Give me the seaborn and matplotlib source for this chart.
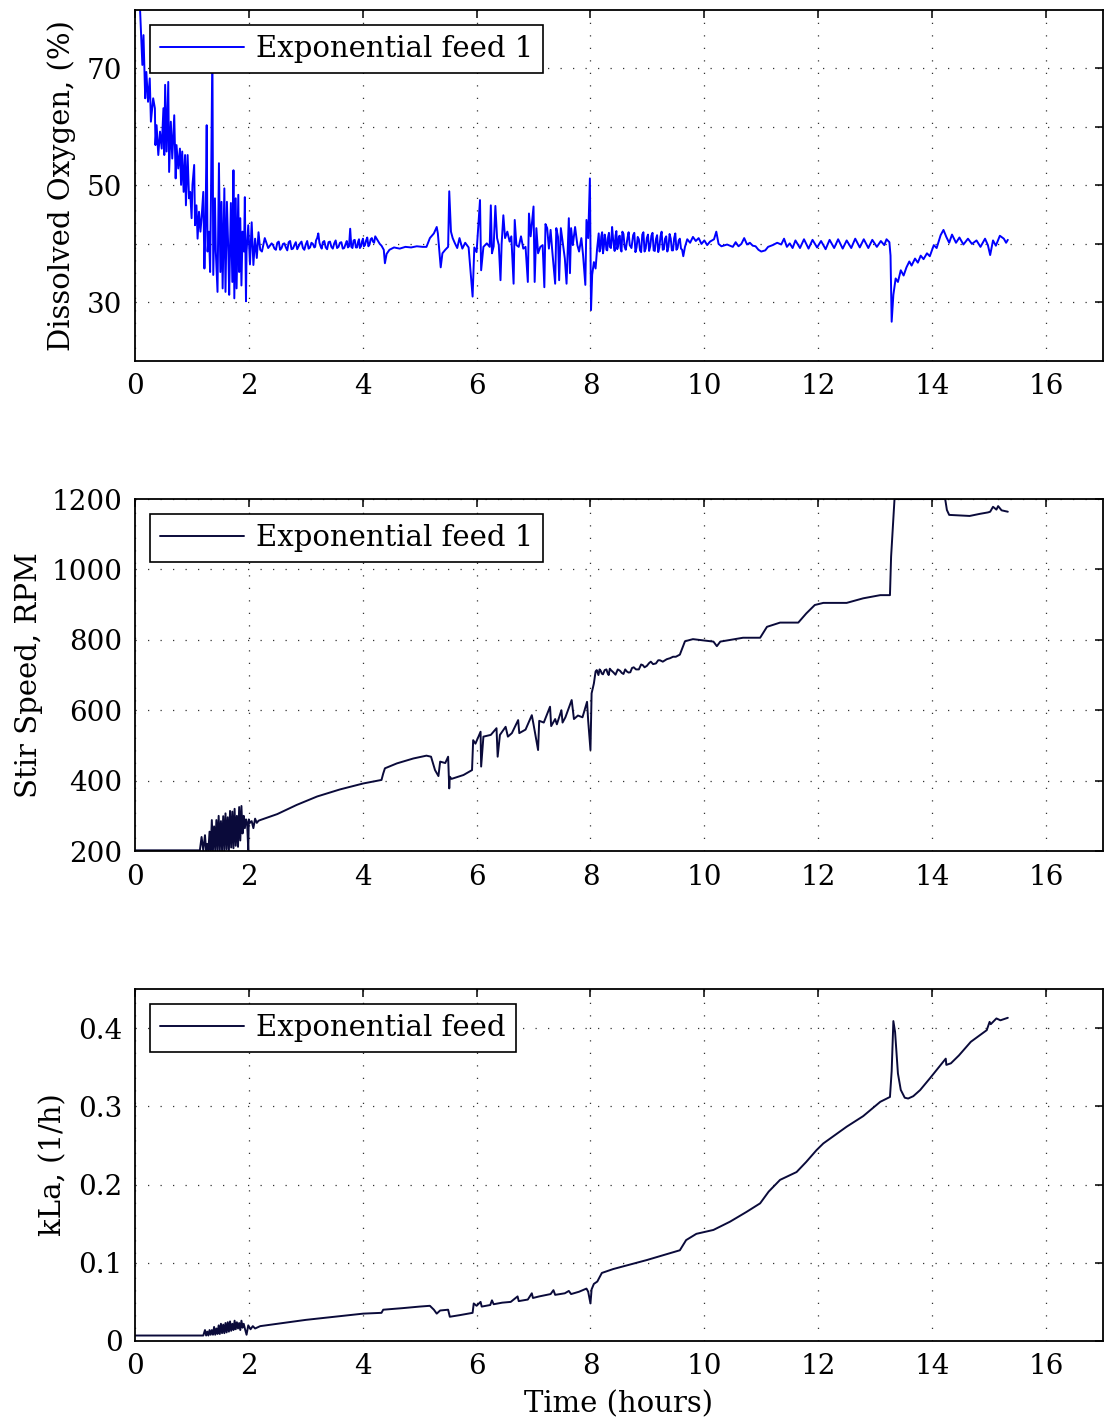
import numpy as np
import pandas as pd
import matplotlib
matplotlib.use("Agg")
import matplotlib.pyplot as plt
import seaborn as sns

# ---------------- data ----------------
do_t = [0.05, 0.09, 0.13, 0.15, 0.18, 0.20, 0.23, 0.26, 0.28, 0.32, 0.35, 0.36, 0.38, 0.41, 0.44, 0.47,
        0.50, 0.515, 0.53, 0.556, 0.585, 0.60, 0.63, 0.655, 0.69, 0.715, 0.73, 0.76, 0.79, 0.81, 0.83,
        0.855, 0.88, 0.895, 0.925, 0.95, 0.97, 0.995, 1.01, 1.04, 1.055, 1.08, 1.10, 1.125, 1.15, 1.17,
        1.20, 1.22, 1.24, 1.26, 1.275, 1.30, 1.32, 1.335, 1.36, 1.375, 1.405, 1.42, 1.45, 1.475, 1.50,
        1.52, 1.54, 1.57, 1.59, 1.615, 1.64, 1.655, 1.685, 1.71, 1.73, 1.745, 1.77, 1.785, 1.80, 1.815,
        1.83, 1.85, 1.87, 1.89, 1.915, 1.93, 1.95, 1.96, 1.99, 2.02, 2.05, 2.08, 2.11, 2.14, 2.17, 2.20,
        2.23, 2.28, 2.34, 2.40,
        2.45, 2.50, 2.55, 2.60, 2.65, 2.70, 2.75, 2.80, 2.85, 2.90, 2.95, 3.00, 3.05, 3.10, 3.15, 3.18,
        3.22, 3.26, 3.30, 3.35, 3.40, 3.45, 3.50, 3.55, 3.60, 3.65, 3.70, 3.74, 3.78, 3.80, 3.84, 3.88,
        3.92, 3.95, 3.99, 4.02, 4.06, 4.10, 4.14, 4.18, 4.22, 4.27, 4.33, 4.37, 4.39, 4.42, 4.47, 4.55,
        4.65, 4.75, 4.85, 4.95, 5.05, 5.12,
        5.18, 5.25, 5.30, 5.32, 5.37, 5.40, 5.45, 5.50, 5.52, 5.55, 5.58, 5.62, 5.66, 5.70, 5.75, 5.80,
        5.86, 5.93, 5.96, 6.00, 6.06, 6.08, 6.12, 6.18, 6.23, 6.25, 6.27, 6.30, 6.33, 6.36, 6.39, 6.42,
        6.44, 6.47, 6.50, 6.54, 6.58, 6.61, 6.65, 6.67, 6.70, 6.74, 6.78, 6.82, 6.86, 6.90, 6.92, 6.95,
        7.00, 7.02, 7.05, 7.08, 7.12, 7.16, 7.19, 7.21, 7.24, 7.27, 7.30, 7.33, 7.38, 7.40, 7.43, 7.45,
        7.48, 7.52, 7.55, 7.58, 7.62, 7.64, 7.66, 7.69, 7.73, 7.77, 7.80, 7.84, 7.87, 7.91, 7.93, 7.96,
        7.99, 8.01, 8.03, 8.06, 8.09, 8.13, 8.16, 8.19, 8.22, 8.25, 8.28, 8.31, 8.34, 8.38, 8.41, 8.44,
        8.47, 8.50, 8.53, 8.56, 8.60, 8.65, 8.69,
        8.75, 8.79, 8.83, 8.87, 8.91, 8.95, 8.99, 9.03, 9.07, 9.11, 9.15, 9.19, 9.23, 9.27, 9.31, 9.35,
        9.39, 9.43, 9.47, 9.51, 9.55, 9.59, 9.63, 9.66, 9.70, 9.75, 9.80, 9.85, 9.90, 9.95, 10.00, 10.05,
        10.10, 10.17, 10.21, 10.25, 10.30, 10.40, 10.50, 10.55, 10.60, 10.65, 10.70, 10.75, 10.80,
        10.85, 10.90, 10.95, 11.00, 11.07, 11.12, 11.20, 11.28, 11.35, 11.40, 11.45, 11.50, 11.55,
        11.60, 11.68, 11.75, 11.83, 11.90, 11.98, 12.05, 12.13, 12.20, 12.28, 12.35, 12.43, 12.50,
        12.58, 12.65, 12.73, 12.80, 12.88, 12.95, 13.03, 13.10, 13.16, 13.20, 13.25, 13.27, 13.29,
        13.32, 13.36, 13.40, 13.45, 13.50, 13.55, 13.60, 13.64, 13.70, 13.75, 13.80, 13.85, 13.91,
        13.96, 14.03, 14.08, 14.15, 14.20, 14.25, 14.30, 14.35, 14.42, 14.48, 14.55, 14.63, 14.70,
        14.78, 14.85, 14.93, 14.98, 15.02, 15.07, 15.12, 15.19, 15.26, 15.30, 15.33]
do_v = [85.0, 80.0, 70.6, 75.7, 64.9, 69.4, 64.3, 68.3, 60.9, 64.9, 63.2, 56.9, 60.3, 55.2, 59.2, 56.3,
        63.2, 55.2, 67.2, 55.8, 67.7, 52.3, 60.9, 54.6, 62.0, 51.2, 56.9, 52.9, 56.3, 50.1, 55.8,
        48.9, 55.2, 46.6, 55.2, 47.8, 48.9, 44.4, 50.1, 53.5, 43.2, 46.6, 40.9, 45.5, 42.1, 44.4,
        48.9, 35.8, 44.0, 60.3, 38.7, 42.1, 35.2, 47.8, 74.0, 34.7, 47.8, 38.7, 31.8, 53.8, 35.2,
        47.2, 32.4, 49.5, 31.8, 47.2, 38.7, 31.3, 47.0, 33.5, 52.6, 30.7, 47.8, 32.4, 40.0, 48.4,
        35.2, 44.4, 32.9, 42.1, 38.7, 48.0, 30.2, 38.7, 43.2, 36.5, 43.7, 36.4, 40.9, 37.6, 42.0, 39.0,
        38.7, 41.0, 39.3, 40.1,
        39.2, 40.2, 39.0, 40.0, 39.4, 40.3, 39.1, 39.8, 39.1, 40.1, 39.3, 39.9, 39.2, 40.2, 39.4, 40.6,
        41.8, 39.6, 40.3, 39.4, 40.3, 39.5, 40.1, 39.3, 40.2, 39.2, 40.0, 39.4, 42.6, 39.5, 40.6, 39.4,
        40.4, 39.3, 40.5, 39.6, 40.6, 39.6, 40.8, 40.4, 41.3, 40.5, 39.7, 39.0, 36.7, 38.3, 39.0, 39.4,
        39.2, 39.5, 39.4, 39.6, 39.5, 39.5,
        41.0, 41.8, 42.9, 41.8, 36.0, 38.4, 39.0, 39.5, 49.0, 42.1, 41.0, 40.1, 39.3, 41.0, 39.2, 40.2,
        39.4, 31.0, 39.4, 38.6, 47.5, 35.5, 39.5, 40.1, 39.5, 46.6, 38.4, 39.6, 46.5, 41.0, 39.8, 33.8,
        40.0, 44.9, 41.0, 42.1, 40.4, 41.3, 33.2, 44.1, 39.8, 39.5, 41.3, 39.2, 39.5, 33.5, 45.2, 41.3,
        46.4, 33.5, 42.7, 38.4, 39.5, 39.8, 32.6, 43.4, 42.7, 39.2, 42.4, 38.7, 33.2, 42.7, 41.2, 33.8,
        42.7, 39.8, 37.5, 33.2, 44.4, 35.0, 42.7, 39.8, 42.9, 39.8, 38.7, 41.0, 38.1, 33.0, 44.1, 41.0,
        51.2, 28.7, 34.7, 36.9, 35.8, 40.4, 38.7, 41.3, 38.4, 41.6, 39.0, 41.2, 39.5, 42.9, 39.8, 41.4,
        39.1, 41.3, 39.2, 42.1, 39.5, 41.0, 39.8,
        41.5, 38.6, 41.2, 38.9, 41.6, 38.7, 41.0, 38.8, 41.4, 38.9, 40.8, 38.6, 41.3, 39.0, 40.9, 38.7,
        41.7, 38.9, 41.0, 39.0, 40.6, 39.2, 37.9, 39.5, 40.8, 40.2, 41.2, 40.5, 41.0, 40.0, 40.6, 39.8,
        40.4, 40.8, 42.1, 40.0, 39.6, 39.9, 39.5, 40.3, 39.6, 40.0, 41.0, 39.9, 40.2,
        39.7, 39.6, 39.0, 38.7, 38.9, 39.5, 39.8, 40.2, 39.9, 40.9, 39.5, 40.1, 39.3,
        40.6, 39.3, 40.8, 39.2, 40.7, 39.4, 40.5, 39.1, 40.7, 39.3, 40.8, 39.2, 40.6,
        39.3, 40.9, 39.4, 40.8, 39.3, 40.7, 39.5, 40.5, 39.8, 40.8, 40.3, 38.0, 26.7,
        31.3, 34.1, 33.5, 35.5, 34.6, 36.0, 37.0, 36.3, 37.5, 36.8, 38.0, 37.4, 38.4,
        37.9, 39.8, 39.3, 41.5, 42.4, 41.2, 40.2, 41.6, 40.2, 41.1, 39.9, 40.9, 40.0,
        40.6, 39.5, 40.9, 39.8, 38.1, 40.6, 39.7, 41.4, 40.9, 40.2, 40.7]

# extra readings inside the dense noisy bands of the DO trace (hours, %)
do_band_points = [
    (2.425, 39.8), (2.475, 39.0), (2.525, 40.4), (2.575, 39.3), (2.625, 40.1), (2.675, 38.9),
    (2.725, 40.5), (2.775, 39.2), (2.825, 40.3), (2.875, 39.6), (2.925, 40.4), (2.975, 39.0),
    (3.025, 40.5), (3.075, 39.4), (3.125, 40.0), (3.165, 39.5), (3.200, 41.0), (3.240, 40.2),
    (3.280, 39.2), (3.325, 40.5), (3.375, 39.1), (3.425, 40.4), (3.475, 39.2), (3.525, 40.6),
    (3.575, 39.5), (3.625, 40.3), (3.675, 39.3), (3.720, 40.5), (3.760, 39.6), (3.790, 41.0),
    (3.820, 39.3), (3.860, 40.7), (3.900, 39.4), (3.935, 40.8), (3.970, 39.6), (4.005, 40.9),
    (4.040, 39.8), (4.080, 41.1), (4.120, 39.9), (4.160, 41.0), (4.200, 40.2), (4.245, 40.9),
    (4.300, 40.0),
    (8.115, 39.0), (8.145, 41.8), (8.175, 39.2), (8.205, 42.0), (8.235, 39.5), (8.265, 40.8),
    (8.295, 38.9), (8.325, 41.9), (8.360, 39.3), (8.395, 41.1), (8.425, 38.8), (8.455, 42.2),
    (8.485, 39.6), (8.515, 41.4), (8.545, 38.7), (8.580, 41.7), (8.620, 39.0), (8.670, 42.0),
    (8.720, 39.3), (8.770, 41.9), (8.810, 39.4), (8.850, 40.8), (8.890, 38.6), (8.930, 42.0),
    (8.970, 39.2), (9.010, 41.6), (9.050, 39.6), (9.090, 41.9), (9.130, 38.8), (9.170, 41.5),
    (9.210, 39.4), (9.250, 42.1), (9.290, 39.1), (9.330, 41.3), (9.370, 39.5), (9.410, 40.9),
    (9.450, 38.9), (9.490, 41.8), (9.530, 39.3), (9.570, 40.9), (9.610, 39.0),
]

# stir speed (hours, RPM)
stir_points = [
    (0.00, 202), (0.50, 202), (1.00, 202), (1.14, 202), (1.17, 240), (1.20, 202), (1.23, 245),
    (1.25, 202), (1.27, 220), (1.29, 202), (1.31, 255), (1.33, 202), (1.35, 288), (1.37, 202),
    (1.39, 270), (1.41, 202), (1.43, 288), (1.45, 202), (1.47, 300), (1.49, 202), (1.51, 285),
    (1.53, 202), (1.55, 299), (1.57, 202), (1.59, 307), (1.61, 205), (1.63, 296), (1.65, 202),
    (1.67, 314), (1.69, 210), (1.71, 312), (1.73, 208), (1.75, 320), (1.77, 215), (1.79, 300),
    (1.81, 212), (1.83, 325), (1.85, 230), (1.87, 328), (1.89, 250), (1.91, 300), (1.93, 265),
    (1.95, 290), (1.97, 280), (1.99, 203), (2.00, 290), (2.02, 280), (2.05, 285), (2.08, 265),
    (2.11, 292), (2.14, 280), (2.17, 286), (2.20, 288), (2.50, 305), (2.84, 331), (3.20, 355),
    (3.60, 375), (4.01, 392), (4.20, 398), (4.33, 402), (4.36, 420), (4.39, 435), (4.60, 449),
    (4.89, 463), (5.12, 471), (5.20, 468), (5.27, 430), (5.33, 413), (5.36, 454), (5.45, 450),
    (5.50, 468), (5.52, 378), (5.53, 411), (5.56, 405), (5.77, 416), (5.92, 430), (5.94, 515),
    (5.98, 505), (6.07, 539), (6.08, 440), (6.12, 525), (6.25, 530), (6.35, 549), (6.37, 468),
    (6.41, 530), (6.51, 553), (6.55, 525), (6.62, 535), (6.73, 572), (6.75, 535), (6.86, 545),
    (6.97, 586), (7.00, 560), (7.08, 487), (7.10, 570), (7.18, 565), (7.29, 610), (7.31, 555),
    (7.38, 575), (7.41, 560), (7.49, 600), (7.51, 565), (7.56, 580), (7.67, 629), (7.71, 575),
    (7.78, 585), (7.86, 580), (7.94, 624), (7.96, 570), (8.00, 487), (8.02, 648), (8.06, 676),
    (8.09, 710), (8.11, 714), (8.14, 700), (8.16, 716), (8.18, 712), (8.20, 704), (8.22, 702),
    (8.25, 714), (8.28, 716), (8.30, 706), (8.32, 700), (8.34, 718), (8.36, 714), (8.40, 708),
    (8.44, 701), (8.48, 716), (8.52, 712), (8.55, 706), (8.58, 703), (8.61, 716), (8.64, 710),
    (8.67, 707), (8.70, 708), (8.73, 720), (8.76, 722), (8.80, 716), (8.85, 716), (8.89, 730),
    (8.92, 728), (8.95, 722), (8.99, 726), (9.03, 734), (9.06, 738), (9.10, 731), (9.15, 733),
    (9.19, 742), (9.22, 742), (9.27, 738), (9.34, 745), (9.40, 748), (9.45, 752), (9.50, 752),
    (9.57, 758), (9.66, 796), (9.80, 802), (10.16, 795), (10.22, 782), (10.28, 795), (10.68, 806),
    (10.98, 806), (11.10, 837), (11.33, 849), (11.65, 849), (11.79, 875), (11.94, 899), (12.09, 905),
    (12.50, 905), (12.79, 918), (13.09, 927), (13.26, 927), (13.28, 1036), (13.34, 1200),
    (14.23, 1200), (14.26, 1169), (14.30, 1155), (14.66, 1152), (14.84, 1158), (14.98, 1162),
    (15.02, 1164), (15.07, 1178), (15.13, 1170), (15.16, 1180), (15.22, 1168), (15.33, 1164),
]

# kLa (hours, 1/h)
kla_points = [
    (0.00, 0.007), (0.60, 0.007), (1.20, 0.007), (1.23, 0.014), (1.25, 0.007), (1.27, 0.012),
    (1.29, 0.007), (1.31, 0.014), (1.33, 0.008), (1.35, 0.014), (1.37, 0.008), (1.39, 0.018),
    (1.41, 0.008), (1.43, 0.016), (1.45, 0.009), (1.47, 0.020), (1.49, 0.009), (1.51, 0.022),
    (1.53, 0.010), (1.55, 0.021), (1.57, 0.010), (1.59, 0.023), (1.61, 0.011), (1.63, 0.024),
    (1.65, 0.012), (1.67, 0.025), (1.69, 0.013), (1.71, 0.022), (1.73, 0.014), (1.75, 0.026),
    (1.77, 0.015), (1.79, 0.024), (1.81, 0.016), (1.83, 0.023), (1.85, 0.014), (1.87, 0.026),
    (1.89, 0.017), (1.91, 0.022), (1.93, 0.016), (1.96, 0.008), (1.99, 0.020), (2.03, 0.015),
    (2.07, 0.019), (2.11, 0.016), (2.20, 0.019), (2.60, 0.023), (3.00, 0.027), (3.50, 0.031),
    (4.01, 0.035), (4.33, 0.036), (4.36, 0.040), (4.70, 0.042), (5.00, 0.044), (5.18, 0.045),
    (5.25, 0.040), (5.30, 0.035), (5.36, 0.039), (5.50, 0.040), (5.53, 0.031), (5.70, 0.033),
    (5.93, 0.036), (5.95, 0.048), (6.00, 0.045), (6.07, 0.050), (6.09, 0.044), (6.24, 0.046),
    (6.27, 0.052), (6.30, 0.047), (6.45, 0.049), (6.60, 0.050), (6.72, 0.057), (6.74, 0.051),
    (6.90, 0.053), (6.97, 0.061), (6.99, 0.055), (7.10, 0.057), (7.30, 0.060), (7.35, 0.065),
    (7.38, 0.059), (7.55, 0.061), (7.62, 0.064), (7.66, 0.060), (7.80, 0.063), (7.93, 0.067),
    (7.96, 0.063), (8.00, 0.048), (8.02, 0.066), (8.06, 0.073), (8.12, 0.076), (8.20, 0.087),
    (8.40, 0.092), (8.99, 0.1035), (9.57, 0.116), (9.68, 0.129), (9.86, 0.137), (10.16, 0.142),
    (10.45, 0.1525), (10.74, 0.165), (10.98, 0.176), (11.13, 0.191), (11.33, 0.206),
    (11.62, 0.216), (11.79, 0.229), (11.97, 0.244), (12.09, 0.2526), (12.50, 0.274),
    (12.79, 0.2875), (13.09, 0.3058), (13.26, 0.312), (13.29, 0.345), (13.32, 0.409),
    (13.35, 0.395), (13.40, 0.342), (13.45, 0.321), (13.52, 0.311), (13.58, 0.310),
    (13.67, 0.313), (13.79, 0.3208), (13.96, 0.3357), (14.24, 0.361), (14.25, 0.353),
    (14.33, 0.355), (14.47, 0.365), (14.68, 0.3825), (14.96, 0.3974), (15.01, 0.408),
    (15.03, 0.405), (15.13, 0.4124), (15.20, 0.410), (15.33, 0.4132),
]

# ---------------- tables ----------------
df1 = pd.concat([pd.DataFrame({"t": do_t, "v": do_v}),
                 pd.DataFrame(do_band_points, columns=["t", "v"])], ignore_index=True)
df1 = df1.sort_values("t", kind="stable").reset_index(drop=True)
df2 = pd.DataFrame(stir_points, columns=["t", "v"])
df3 = pd.DataFrame(kla_points, columns=["t", "v"])

# ---------------- styling ----------------
sns.set_style("white")
plt.rcParams["font.family"] = ["DejaVu Serif"]
plt.rcParams["mathtext.fontset"] = "dejavuserif"
for k in ("text.color", "axes.labelcolor", "xtick.color", "ytick.color"):
    plt.rcParams[k] = "black"
FS = 21     # labels / legend
FT = 20     # tick labels

blue = "#0000ff"
navy = "#0a0a3a"

fig = plt.figure(figsize=(11.08, 14.21), dpi=100)
L, W, H = 0.1218, 0.8736, 0.2477
ax1 = fig.add_axes([L, 0.746, W, 0.247])
ax2 = fig.add_axes([L, 0.4011, W, H])
ax3 = fig.add_axes([L, 0.0563, W, H])

sns.lineplot(data=df1, x="t", y="v", ax=ax1, color=blue, lw=1.4, estimator=None, sort=False,
             label="Exponential feed 1")
sns.lineplot(data=df2, x="t", y="v", ax=ax2, color=navy, lw=1.4, estimator=None, sort=False,
             label="Exponential feed 1")
sns.lineplot(data=df3, x="t", y="v", ax=ax3, color=navy, lw=1.4, estimator=None, sort=False,
             label="Exponential feed")

for ax in (ax1, ax2, ax3):
    ax.set_xlim(0, 17)
    ax.set_xticks(np.arange(0, 17, 2))
    ax.grid(True, linestyle=(0, (1, 9)), color="#333333", linewidth=0.9)
    for s in ax.spines.values():
        s.set_visible(True)
        s.set_color("black")
        s.set_linewidth(1.3)
    ax.tick_params(direction="in", length=6, width=1.1, top=True, right=True,
                   labelsize=FT, pad=9, colors="black")
    ax.set_xlabel("")
    leg = ax.legend(loc="upper left", fontsize=FS, frameon=True, fancybox=False,
                    edgecolor="black", framealpha=1, handlelength=2.9, borderpad=0.35,
                    borderaxespad=0.5, handletextpad=0.4)
    leg.get_frame().set_linewidth(1.2)

ax1.set_ylim(20, 80)
ax1.set_yticks([30, 40, 50, 60, 70])
ax1.set_yticklabels(["30", "", "50", "", "70"])
ax1.set_ylabel("Dissolved Oxygen, (%)", fontsize=FS, labelpad=8)

ax2.set_ylim(200, 1200)
ax2.set_yticks(np.arange(200, 1201, 200))
ax2.set_ylabel("Stir Speed, RPM", fontsize=FS, labelpad=6)

ax3.set_ylim(0, 0.45)
ax3.set_yticks([0, 0.1, 0.2, 0.3, 0.4])
ax3.set_yticklabels(["0", "0.1", "0.2", "0.3", "0.4"])
ax3.set_ylabel("kLa, (1/h)", fontsize=FS, labelpad=8)
ax3.set_xlabel("Time (hours)", fontsize=FS, labelpad=7)

fig.savefig("out.png", dpi=100)
